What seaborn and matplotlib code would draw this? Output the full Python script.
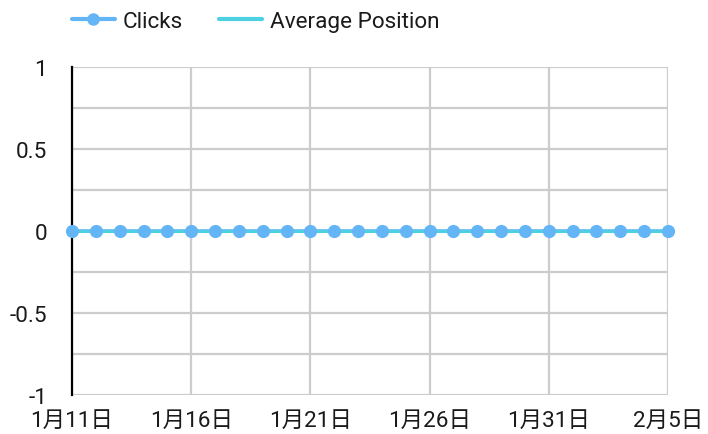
import matplotlib
matplotlib.use("Agg")
import matplotlib.pyplot as plt
import seaborn as sns
import pandas as pd
from matplotlib.lines import Line2D

# Daily series, 1/11 through 2/5
dates = ["1月11日", "1月12日", "1月13日", "1月14日", "1月15日", "1月16日", "1月17日",
         "1月18日", "1月19日", "1月20日", "1月21日", "1月22日", "1月23日", "1月24日",
         "1月25日", "1月26日", "1月27日", "1月28日", "1月29日", "1月30日", "1月31日",
         "2月1日", "2月2日", "2月3日", "2月4日", "2月5日"]
clicks = [0, 0, 0, 0, 0, 0, 0, 0, 0, 0, 0, 0, 0, 0, 0, 0, 0, 0, 0, 0, 0, 0, 0, 0, 0, 0]
avg_position = [0, 0, 0, 0, 0, 0, 0, 0, 0, 0, 0, 0, 0, 0, 0, 0, 0, 0, 0, 0, 0, 0, 0, 0, 0, 0]
y_ticks = [-1, -0.5, 0, 0.5, 1]
y_tick_labels = ["-1", "-0.5", "0", "0.5", "1"]

sns.set_theme(style="white")
plt.rcParams["font.family"] = ["Roboto", "Noto Sans CJK JP", "DejaVu Sans"]

df = pd.DataFrame({"idx": range(len(dates)), "date": dates,
                   "clicks": clicks, "avg": avg_position})

CLICK_COLOR = "#64b5f6"
AVG_COLOR = "#4dd0e1"
GRID = "#cccccc"
TEXT = "#1a1a1a"
FS = 16.2

fig = plt.figure(figsize=(7.08, 4.35), dpi=100)
ax = fig.add_axes([0.1017, 0.0897, 0.9435 - 0.1017, 0.8437 - 0.0897])

sns.lineplot(data=df, x="idx", y="clicks", ax=ax, color=CLICK_COLOR,
             linewidth=2.6, zorder=3, legend=False)
sns.lineplot(data=df, x="idx", y="avg", ax=ax, color=AVG_COLOR,
             linewidth=2.2, zorder=4, legend=False)
sns.scatterplot(data=df, x="idx", y="clicks", ax=ax, color=CLICK_COLOR,
                s=90, linewidth=0, zorder=5, legend=False, clip_on=False)

ax.set_xlim(0, len(dates) - 1)
ax.set_ylim(-1, 1)

# major ticks every 5 days / 0.5, gridlines also at the quarter steps
ax.set_xticks(range(0, len(dates), 5))
ax.set_xticklabels([dates[i] for i in range(0, len(dates), 5)])
ax.set_yticks(y_ticks)
ax.set_yticklabels(y_tick_labels)
ax.set_yticks([-0.75, -0.25, 0.25, 0.75], minor=True)

ax.grid(True, which="major", color=GRID, linewidth=1.6, zorder=0)
ax.grid(True, which="minor", axis="y", color=GRID, linewidth=1.6, zorder=0)
ax.set_axisbelow(True)

for side in ["top", "right", "bottom"]:
    ax.spines[side].set_visible(False)
ax.spines["left"].set_color("black")
ax.spines["left"].set_linewidth(1.6)
ax.spines["left"].set_zorder(2)

ax.tick_params(axis="both", which="both", length=0, labelsize=FS, colors=TEXT)
ax.tick_params(axis="y", pad=18)
ax.tick_params(axis="x", pad=11)
ax.set_xlabel("")
ax.set_ylabel("")

handles = [
    Line2D([], [], color=CLICK_COLOR, linewidth=3, marker="o", markersize=9,
           markeredgewidth=0),
    Line2D([], [], color=AVG_COLOR, linewidth=3),
]
fig.legend(handles, ["Clicks", "Average Position"], loc="center left",
           bbox_to_anchor=(0.1017, 0.948), ncol=2, frameon=False, fontsize=FS,
           borderpad=0, borderaxespad=0,
           handlelength=1.9, handletextpad=0.35, columnspacing=1.6,
           labelcolor=TEXT)

fig.savefig("out.png", dpi=100)
